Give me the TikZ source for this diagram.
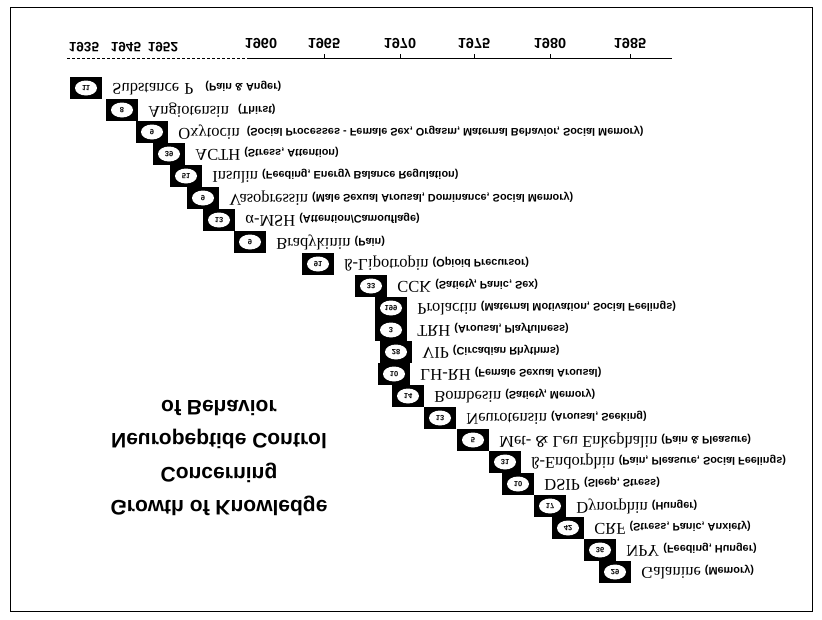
\documentclass[tikz,border=0pt]{standalone}
\usepackage{fontspec}
\setmainfont{Liberation Serif}
\setsansfont{Liberation Sans}
\usetikzlibrary{positioning,shapes.geometric}

\begin{document}
\begin{tikzpicture}[
  x=1pt, y=-1pt,
  agebox/.style={rectangle, fill=black, minimum width=32pt,
                 minimum height=22pt, inner sep=0pt},
  tag/.style={ellipse, fill=white, minimum width=22pt,
              minimum height=15pt, inner sep=0pt, yscale=-1,
              font=\sffamily\bfseries\fontsize{7.5}{8}\selectfont},
  pepline/.style={inner sep=0pt, yscale=-1},
  yearlbl/.style={inner sep=0pt, yscale=-1,
                  font=\sffamily\bfseries\fontsize{14.5}{16}\selectfont},
  oldyear/.style={yearlbl, font=\sffamily\bfseries\fontsize{13.5}{15}\selectfont},
  heading/.style={inner sep=0pt, yscale=-1, align=center,
                  font=\sffamily\bfseries\fontsize{21}{33.5}\selectfont}
]
\useasboundingbox (0,0) rectangle (822,619);

\newcommand{\pname}[1]{{\fontsize{16.5}{18}\selectfont #1}}
\newcommand{\pdesc}[1]{{\sffamily\bfseries\fontsize{10.9}{12}\selectfont #1}}

% frame
\coordinate (frameA) at (10,7);
\coordinate (frameB) at (812,611);
\draw[line width=0.7pt] (frameA) rectangle (frameB);

% time axis
\coordinate (axstart) at (67,58);
\coordinate (axmid)   at (250,58);
\coordinate (axend)   at (672,58);
\draw[dash pattern=on 3pt off 2pt] (axstart) -- (axmid);
\draw[line width=0.9pt] (axmid) -- (axend);

\foreach \yr/\cx in {1935/84, 1945/126, 1952/163}
  \node[oldyear] (y\yr) at (\cx,47.5) {\yr};
\foreach \yr/\cx in {1960/261, 1965/324, 1970/400, 1975/474, 1980/550, 1985/630}
  \node[yearlbl] (y\yr) at (\cx,43) {\yr};
\foreach \yr in {1965,1970,1975,1980,1985}
  \draw (y\yr |- axend) -- ++(0,-4);

% staircase of peptides
\foreach \bx/\num/\name/\desc [count=\i] in {
    70/11/{Substance\hspace{5pt}P\hspace{8pt}}/{(Pain \& Anger)},
    106/8/{Angiotensin\hspace{5pt}}/{(Thirst)},
    136/9/{Oxytocin\hspace{3pt}}/{(Social Processes - Female Sex, Orgasm, Maternal Behavior, Social Memory)},
    153/39/{ACTH}/{(Stress, Attention)},
    170/51/{Insulin}/{(Feeding, Energy Balance Regulation)},
    187/9/{Vasopressin}/{(Male Sexual Arousal, Dominance, Social Memory)},
    203/13/{α-MSH}/{(Attention/Camouflage)},
    234/9/{Bradykinin}/{(Pain)},
    302/91/{ß-Lipotropin}/{(Opioid Precursor)},
    355/33/{CCK}/{(Satiety, Panic, Sex)},
    375/199/{Prolactin}/{(Maternal Motivation, Social Feelings)},
    375/3/{TRH}/{(Arousal, Playfulness)},
    380/28/{VIP}/{(Circadian Rhythms)},
    378/10/{LH-RH}/{(Female Sexual Arousal)},
    392/14/{Bombesin}/{(Satiety, Memory)},
    424/13/{Neurotensin}/{(Arousal, Seeking)},
    457/5/{Met- \& Leu Enkephalin}/{(Pain \& Pleasure)},
    489/31/{ß-Endorphin}/{(Pain, Pleasure, Social Feelings)},
    502/10/{DSIP}/{(Sleep, Stress)},
    534/17/{Dynorphin}/{(Hunger)},
    552/42/{CRF}/{(Stress, Panic, Anxiety)},
    584/36/{NPY}/{(Feeding, Hunger)},
    599/29/{Galanine}/{(Memory)}} {
  \node[agebox] (b\i) at ({\bx+16},{66+22*\i}) {};
  \node[tag] (n\i) at (b\i) {\num};
  \node[pepline, right=10pt of b\i] (t\i) {\pname{\name}\hspace{4pt}\pdesc{\desc}};
}

% title (printed upside down)
\node[heading] (title) at (219,458)
  {Growth of Knowledge\\Concerning\\Neuropeptide Control\\of Behavior};
\end{tikzpicture}
\end{document}
